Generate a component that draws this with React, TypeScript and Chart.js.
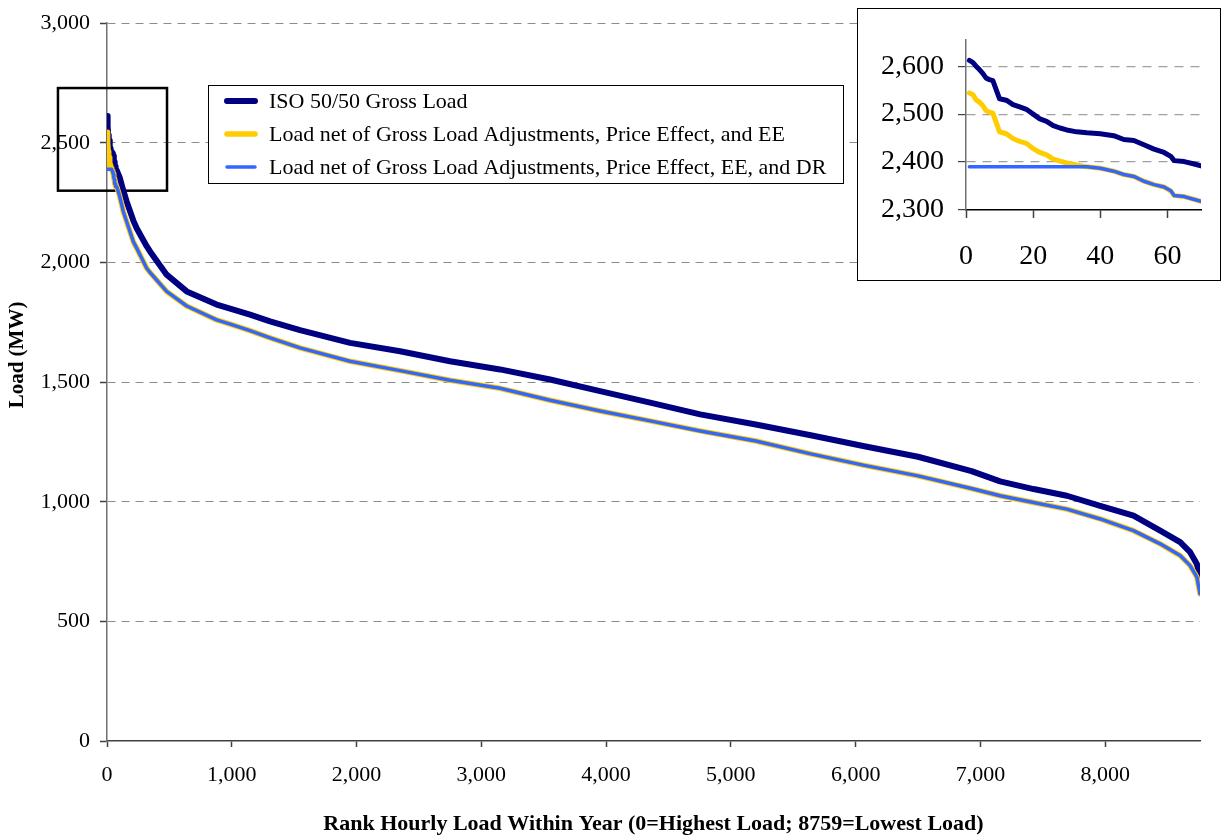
import React, { useEffect, useRef } from "react";
import { Chart, registerables } from "chart.js";

Chart.register(...registerables);

const FONT = "'Liberation Serif', 'Times New Roman', serif";

const seriesLabels = [
  "ISO 50/50 Gross Load",
  "Load net of Gross Load Adjustments, Price Effect, and EE",
  "Load net of Gross Load Adjustments, Price Effect, EE, and DR",
];
const seriesColors = ["#000080", "#FFCC00", "#3366FF"];

const xTitle = "Rank Hourly Load Within Year (0=Highest Load; 8759=Lowest Load)";
const yTitle = "Load (MW)";

// Rank of hour within year (1 = highest load)
const ranks = [
  1, 2, 3, 4, 5, 6, 7, 8, 10, 12, 14, 16, 18, 20, 22, 24, 26, 28, 30, 33, 36, 40, 44, 47, 50, 53, 56, 59, 61, 62,
  65, 68, 70, 78, 100, 131, 158, 211, 238, 318, 345, 478, 639, 879, 1000, 1146, 1307, 1547, 1948, 2349, 2749,
  3150, 3551, 3952, 4353, 4754, 5200, 5640, 6070, 6500, 6929, 7158, 7426, 7693, 7960, 8227, 8441, 8601, 8681,
  8735, 8760,
];

const grossLoad = [
  2612, 2608, 2600, 2593, 2585, 2575, 2572, 2570, 2532, 2529, 2520, 2515, 2510, 2500, 2490, 2485, 2476, 2471, 2467,
  2463, 2461, 2459, 2455, 2447, 2445, 2436, 2427, 2420, 2412, 2403, 2401, 2396, 2392, 2385, 2358, 2300, 2254, 2175,
  2143, 2068, 2046, 1949, 1879, 1824, 1805, 1782, 1754, 1717, 1664, 1629, 1587, 1553, 1511, 1462, 1414, 1365, 1323,
  1278, 1232, 1188, 1128, 1085, 1053, 1025, 983, 942, 879, 831, 789, 740, 685,
];

const netEELoad = [
  2544, 2541, 2530, 2525, 2518, 2507, 2504, 2502, 2463, 2459, 2449, 2443, 2439, 2428, 2420, 2415, 2406, 2402, 2398,
  2394, 2390, 2387, 2381, 2374, 2370, 2360, 2353, 2348, 2340, 2330, 2328, 2322, 2318, 2317, 2280, 2212, 2170, 2087,
  2060, 1976, 1958, 1879, 1818, 1760, 1740, 1715, 1685, 1643, 1587, 1548, 1508, 1474, 1424, 1379, 1338, 1296, 1254,
  1200, 1152, 1108, 1055, 1025, 997, 969, 928, 879, 824, 775, 733, 685, 615,
];

const netDRLoad = [
  2390, 2390, 2390, 2390, 2390, 2390, 2390, 2390, 2390, 2390, 2390, 2390, 2390, 2390, 2390, 2390, 2390, 2390, 2390,
  2390, 2390, 2387, 2381, 2374, 2370, 2360, 2353, 2348, 2340, 2330, 2328, 2322, 2318, 2317, 2280, 2212, 2170, 2087,
  2060, 1976, 1958, 1879, 1818, 1760, 1740, 1715, 1685, 1643, 1587, 1548, 1508, 1474, 1424, 1379, 1338, 1296, 1254,
  1200, 1152, 1108, 1055, 1025, 997, 969, 928, 879, 824, 775, 733, 685, 615,
];

const mainXTicks = [0, 1000, 2000, 3000, 4000, 5000, 6000, 7000, 8000];
const mainYTicks = [0, 500, 1000, 1500, 2000, 2500, 3000];
const insetXTicks = [0, 20, 40, 60];
const insetYTicks = [2300, 2400, 2500, 2600];
const insetMaxRank = 70;

// highlighted region in the main chart (data units)
const zoomBox = { xMin: -393, xMax: 481, yMin: 2300, yMax: 2729 };

const seriesValues = [grossLoad, netEELoad, netDRLoad];

function makeDatasets(maxRank: number, widths: number[]) {
  return seriesValues.map((vals, k) => ({
    label: seriesLabels[k],
    data: ranks
      .map((r, i) => ({ x: r, y: vals[i] }))
      .filter((p) => p.x <= maxRank),
    borderColor: seriesColors[k],
    backgroundColor: seriesColors[k],
    borderWidth: widths[k],
    pointRadius: 0,
    tension: 0,
    borderJoinStyle: "round" as const,
    borderCapStyle: "round" as const,
    order: 3 - k,
  }));
}

const fmt = (v: number) => Number(v).toLocaleString("en-US");

const mainDecor = {
  id: "mainDecor",
  beforeDatasetsDraw(chart: any) {
    const { ctx, scales } = chart;
    const x = scales.x;
    const y = scales.y;
    const x0 = x.getPixelForValue(zoomBox.xMin);
    const x1 = x.getPixelForValue(zoomBox.xMax);
    const y0 = y.getPixelForValue(zoomBox.yMin);
    const y1 = y.getPixelForValue(zoomBox.yMax);
    ctx.save();
    ctx.strokeStyle = "#000";
    ctx.lineWidth = 2.5;
    ctx.strokeRect(x0, y1, x1 - x0, y0 - y1);
    ctx.restore();
  },
  afterDraw(chart: any) {
    const { ctx } = chart;
    // y axis title
    ctx.save();
    ctx.translate(18, 355);
    ctx.rotate(-Math.PI / 2);
    ctx.font = `bold 21px ${FONT}`;
    ctx.fillStyle = "#000";
    ctx.textAlign = "center";
    ctx.textBaseline = "middle";
    ctx.fillText(yTitle, 0, 0);
    ctx.restore();

    // legend box
    ctx.save();
    ctx.fillStyle = "#fff";
    ctx.fillRect(208, 85, 635, 98);
    ctx.strokeStyle = "#000";
    ctx.lineWidth = 1;
    ctx.strokeRect(208.5, 85.5, 635, 98);
    const ds = chart.data.datasets;
    const rowsY = [101, 134, 167];
    for (let k = 0; k < ds.length; k++) {
      const d = ds[k];
      ctx.strokeStyle = d.borderColor;
      ctx.lineWidth = d.borderWidth;
      ctx.lineCap = "round";
      ctx.beginPath();
      ctx.moveTo(227, rowsY[k]);
      ctx.lineTo(255, rowsY[k]);
      ctx.stroke();
      ctx.fillStyle = "#000";
      ctx.font = `22px ${FONT}`;
      ctx.textAlign = "left";
      ctx.textBaseline = "middle";
      ctx.fillText(d.label, 269, rowsY[k] + 1);
    }
    ctx.restore();
  },
};

export default function App() {
  const mainRef = useRef<HTMLCanvasElement>(null);
  const insetRef = useRef<HTMLCanvasElement>(null);

  useEffect(() => {
    const main = new Chart(mainRef.current as HTMLCanvasElement, {
      type: "line",
      data: { datasets: makeDatasets(Infinity, [6, 5.5, 3.5]) as any },
      options: {
        animation: false,
        responsive: false,
        devicePixelRatio: 1,
        layout: { padding: { top: 21, right: 24, left: 0, bottom: 0 } },
        plugins: { legend: { display: false }, tooltip: { enabled: false } },
        scales: {
          x: {
            type: "linear",
            min: 0,
            max: 8760,
            afterBuildTicks: (s: any) => {
              s.ticks = mainXTicks.map((v) => ({ value: v }));
            },
            afterFit: (s: any) => {
              s.height = 97;
            },
            ticks: {
              font: { family: FONT, size: 22 },
              color: "#000",
              padding: 15,
              maxRotation: 0,
              autoSkip: false,
              callback: (v: any) => fmt(v),
            },
            grid: {
              drawOnChartArea: false,
              drawTicks: true,
              tickLength: 6,
              tickColor: "#404040",
              tickWidth: 1.5,
            },
            border: { color: "#404040", width: 1.5 },
            title: {
              display: true,
              text: xTitle,
              color: "#000",
              font: { family: FONT, size: 22, weight: "bold" },
              padding: { top: 0, bottom: 0 },
            },
          },
          y: {
            type: "linear",
            min: 0,
            max: 3000,
            afterBuildTicks: (s: any) => {
              s.ticks = mainYTicks.map((v) => ({ value: v }));
            },
            afterFit: (s: any) => {
              s.width = 107;
            },
            ticks: {
              font: { family: FONT, size: 22 },
              color: "#000",
              padding: 10,
              callback: (v: any) => fmt(v),
            },
            grid: {
              color: (c: any) => (c.tick && c.tick.value === 0 ? "rgba(0,0,0,0)" : "#8c8c8c"),
              lineWidth: 1,
              tickLength: 7,
              tickColor: "#404040",
              tickWidth: 1.5,
              tickBorderDash: [],
            },
            border: { color: "#707070", width: 1.5, dash: [8, 6] },
          },
        },
      } as any,
      plugins: [mainDecor],
    });

    const inset = new Chart(insetRef.current as HTMLCanvasElement, {
      type: "line",
      data: { datasets: makeDatasets(insetMaxRank, [5, 5, 3.5]) as any },
      options: {
        animation: false,
        responsive: false,
        devicePixelRatio: 1,
        layout: { padding: { top: 23, right: 18, left: 0, bottom: 0 } },
        plugins: { legend: { display: false }, tooltip: { enabled: false } },
        scales: {
          x: {
            type: "linear",
            min: 0,
            max: insetMaxRank,
            afterBuildTicks: (s: any) => {
              s.ticks = insetXTicks.map((v) => ({ value: v }));
            },
            afterFit: (s: any) => {
              s.height = 69;
            },
            ticks: {
              font: { family: FONT, size: 28 },
              color: "#000",
              padding: 22,
              maxRotation: 0,
              autoSkip: false,
              callback: (v: any) => fmt(v),
            },
            grid: {
              drawOnChartArea: false,
              drawTicks: true,
              tickLength: 8,
              tickColor: "#404040",
              tickWidth: 1.5,
            },
            border: { color: "#000", width: 1.5 },
          },
          y: {
            type: "linear",
            min: 2300,
            max: 2655,
            afterBuildTicks: (s: any) => {
              s.ticks = insetYTicks.map((v) => ({ value: v }));
            },
            afterFit: (s: any) => {
              s.width = 108;
            },
            ticks: {
              font: { family: FONT, size: 28 },
              color: "#000",
              padding: 14,
              callback: (v: any) => fmt(v),
            },
            grid: {
              color: (c: any) => (c.tick && c.tick.value === 2300 ? "rgba(0,0,0,0)" : "#a0a0a0"),
              lineWidth: 1.2,
              tickLength: 8,
              tickColor: "#404040",
              tickWidth: 1.2,
              tickBorderDash: [],
            },
            border: { color: "#707070", width: 1.5, dash: [9, 7] },
          },
        },
      } as any,
    });

    return () => {
      main.destroy();
      inset.destroy();
    };
  }, []);

  return (
    <div
      style={{
        position: "fixed",
        left: 0,
        top: 0,
        width: 1224,
        height: 838,
        background: "#fff",
        overflow: "hidden",
      }}
    >
      <canvas
        ref={mainRef}
        width={1224}
        height={838}
        style={{ position: "absolute", left: 0, top: 0, width: 1224, height: 838, display: "block" }}
      />
      <div
        style={{
          position: "absolute",
          left: 857,
          top: 8,
          width: 364,
          height: 273,
          boxSizing: "border-box",
          border: "1.5px solid #000",
          background: "#fff",
        }}
      >
        <canvas ref={insetRef} width={361} height={270} style={{ display: "block", width: 361, height: 270 }} />
      </div>
    </div>
  );
}
